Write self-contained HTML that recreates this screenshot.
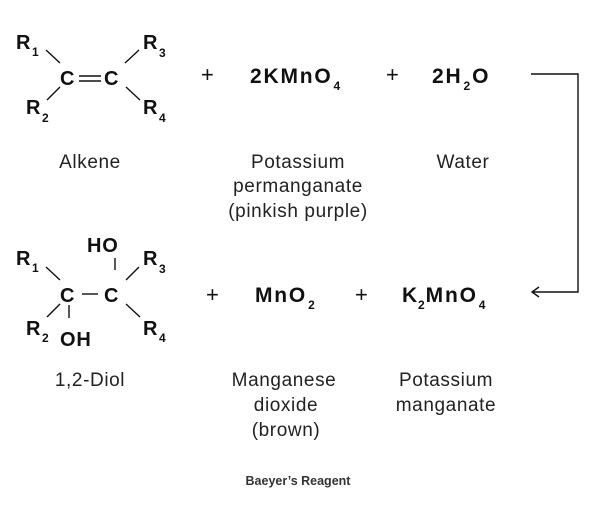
<!DOCTYPE html>
<html><head><meta charset="utf-8"><style>
html,body{margin:0;padding:0;background:#fff;}
svg{display:block;}
.b{font-family:"Liberation Sans",sans-serif;font-weight:bold;font-size:20px;fill:#111;letter-spacing:0.8px;}
.f{font-family:"Liberation Sans",sans-serif;font-weight:bold;font-size:21px;fill:#111;letter-spacing:1.8px;}
.s{font-family:"Liberation Sans",sans-serif;font-weight:bold;font-size:12px;fill:#111;letter-spacing:0;}
.n{font-family:"Liberation Sans",sans-serif;font-size:19px;fill:#222;text-anchor:middle;letter-spacing:0.6px;}
.p{font-family:"Liberation Sans",sans-serif;font-size:22px;fill:#111;}
line,polyline{stroke:#111;stroke-width:1.4;fill:none;}
</style></head><body>
<svg width="600" height="505" viewBox="0 0 600 505">
<!-- Alkene -->
<text class="b" x="16" y="49">R</text><text class="s" x="32" y="56">1</text>
<text class="b" x="143" y="49">R</text><text class="s" x="159" y="57">3</text>
<text class="b" x="26" y="114">R</text><text class="s" x="42" y="122">2</text>
<text class="b" x="143" y="114">R</text><text class="s" x="159" y="122">4</text>
<text class="b" x="60" y="85">C</text><text class="b" x="104" y="85">C</text>
<line x1="79" y1="76" x2="101" y2="76"/><line x1="79" y1="81" x2="101" y2="81"/>
<line x1="46" y1="50" x2="60" y2="63"/><line x1="60" y1="87" x2="47" y2="100"/>
<line x1="125" y1="63" x2="139" y2="50"/><line x1="126" y1="87" x2="140" y2="100"/>
<!-- Diol -->
<text class="b" x="16" y="265">R</text><text class="s" x="32" y="272">1</text>
<text class="b" x="143" y="265">R</text><text class="s" x="159" y="273">3</text>
<text class="b" x="26" y="335">R</text><text class="s" x="42" y="342">2</text>
<text class="b" x="143" y="335">R</text><text class="s" x="159" y="342">4</text>
<text class="b" x="87" y="252">HO</text><text class="b" x="60" y="346">OH</text>
<text class="b" x="60" y="302">C</text><text class="b" x="104" y="302">C</text>
<line x1="82" y1="294" x2="98" y2="294"/>
<line x1="115" y1="258" x2="115" y2="270"/><line x1="69" y1="305" x2="69" y2="318"/>
<line x1="46" y1="267" x2="60" y2="280"/><line x1="60" y1="304" x2="47" y2="317"/>
<line x1="126" y1="280" x2="139" y2="267"/><line x1="126" y1="304" x2="140" y2="317"/>
<!-- top row -->
<text class="p" x="201" y="82">+</text>
<text class="f" x="250" y="83">2KMnO<tspan class="s" dx="1" dy="7">4</tspan></text>
<text class="p" x="386" y="82">+</text>
<text class="f" x="432" y="83">2H<tspan class="s" dx="1" dy="7">2</tspan><tspan dx="2" dy="-7">O</tspan></text>
<polyline points="531,74 578,74 578,292 532,292"/>
<polyline points="539,287 532,292 539,297"/>
<!-- bottom row -->
<text class="p" x="206" y="302">+</text>
<text class="f" x="255" y="302">MnO<tspan class="s" dx="1" dy="7">2</tspan></text>
<text class="p" x="355" y="302">+</text>
<text class="f" x="402" y="302">K<tspan class="s" dx="-1" dy="7">2</tspan><tspan dx="1" dy="-7">MnO</tspan><tspan class="s" dx="1" dy="7">4</tspan></text>
<!-- labels -->
<text class="n" x="90" y="168">Alkene</text>
<text class="n" x="298" y="168">Potassium</text>
<text class="n" x="298" y="192">permanganate</text>
<text class="n" x="298" y="217">(pinkish purple)</text>
<text class="n" x="463" y="168">Water</text>
<text class="n" x="90" y="386">1,2-Diol</text>
<text class="n" x="284" y="386">Manganese</text>
<text class="n" x="286" y="411">dioxide</text>
<text class="n" x="286" y="436">(brown)</text>
<text class="n" x="446" y="386">Potassium</text>
<text class="n" x="446" y="411">manganate</text>
<text x="298" y="485" style="font-family:'Liberation Sans',sans-serif;font-weight:bold;font-size:12.5px;fill:#333;text-anchor:middle;">Baeyer’s Reagent</text>
</svg>
</body></html>
